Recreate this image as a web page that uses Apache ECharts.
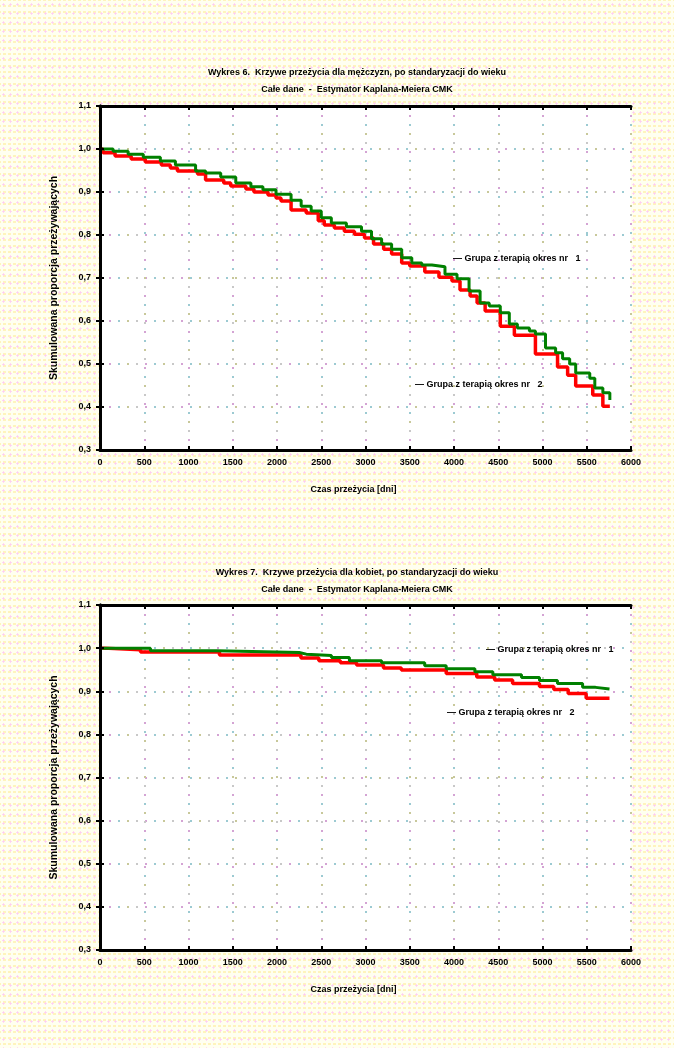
<!DOCTYPE html>
<html>
<head>
<meta charset="utf-8">
<script src="https://cdn.jsdelivr.net/npm/echarts@6/dist/echarts.min.js"></script>
<style>
html,body{margin:0;padding:0;}
body{
  width:674px;height:1048px;overflow:hidden;
  background-color:#fffff0;
  background-image:
    radial-gradient(circle, #ffcdf2 0.9px, transparent 1.3px),
    radial-gradient(circle, #fff4bc 1.1px, transparent 1.5px);
  background-size:7px 9px, 5px 6px;
  background-position:0 0, 2px 3px;
}
#chart{width:674px;height:1048px;}
</style>
</head>
<body>
<div id="chart"></div>
<script>
// ---- text ----
const titles1 = ["Wykres 6.  Krzywe przeżycia dla mężczyzn, po standaryzacji do wieku",
                 "Całe dane  -  Estymator Kaplana-Meiera CMK"];
const titles2 = ["Wykres 7.  Krzywe przeżycia dla kobiet, po standaryzacji do wieku",
                 "Całe dane  -  Estymator Kaplana-Meiera CMK"];
const yAxisName = "Skumulowana proporcja przeżywających";
const xAxisName = "Czas przeżycia [dni]";
const legendLabels = ["— Grupa z terapią okres nr   1", "— Grupa z terapią okres nr   2"];

// ---- axes ----
const xMin = 0, xMax = 6000, xStep = 500;
const yMin = 0.3, yMax = 1.1, yStep = 0.1;

// ---- chart 1 (men): [time in days, cumulative survival] ----
const menGroup1 = [
  [0,1.0],[148,0.995],[318,0.988],[489,0.981],[682,0.972],[852,0.963],[1080,0.949],[1193,0.944],
  [1364,0.935],[1534,0.921],[1705,0.912],[1841,0.905],[1989,0.895],[2159,0.881],[2273,0.867],
  [2386,0.856],[2500,0.840],[2614,0.828],[2784,0.819],[2955,0.809],[3068,0.791],[3182,0.779],
  [3295,0.767],[3409,0.747],[3523,0.735],[3636,0.730],[3750,0.726],[3898,0.709],[4034,0.698],
  [4170,0.670],[4295,0.642],[4398,0.635],[4523,0.619],[4625,0.593],[4716,0.584],[4852,0.577],
  [4920,0.570],[5034,0.537],[5148,0.526],[5227,0.512],[5307,0.500],[5375,0.479],[5534,0.467],
  [5591,0.444],[5682,0.433],[5761,0.416]
];
const menGroup2 = [
  [0,1.0],[34,0.991],[170,0.984],[352,0.977],[511,0.970],[693,0.963],[795,0.956],[875,0.949],
  [1102,0.942],[1193,0.928],[1398,0.921],[1477,0.914],[1648,0.907],[1739,0.900],[1898,0.893],
  [1989,0.886],[2045,0.879],[2159,0.858],[2330,0.851],[2466,0.833],[2534,0.823],[2648,0.816],
  [2761,0.809],[2875,0.802],[2989,0.793],[3091,0.779],[3205,0.767],[3295,0.756],[3409,0.735],
  [3500,0.728],[3670,0.714],[3830,0.702],[3977,0.693],[4068,0.672],[4182,0.658],[4261,0.642],
  [4352,0.623],[4523,0.588],[4682,0.567],[4920,0.523],[5170,0.493],[5284,0.474],[5375,0.449],
  [5568,0.428],[5682,0.402],[5761,0.402]
];
// ---- chart 2 (women) ----
const womenGroup1 = [
  [0,1.0],[570,0.994],[1318,0.990],[2250,0.986],[2331,0.983],[2615,0.978],[2818,0.971],
  [3182,0.966],[3669,0.959],[3912,0.952],[4236,0.945],[4439,0.938],[4763,0.932],[4966,0.925],
  [5169,0.918],[5453,0.909],[5600,0.905],[5757,0.905]
];
const womenGroup2 = [
  [0,1.0],[40,0.996],[458,0.991],[1350,0.984],[2270,0.977],[2473,0.971],[2716,0.966],
  [2899,0.961],[3203,0.954],[3405,0.949],[3912,0.941],[4257,0.933],[4459,0.926],[4662,0.918],
  [4966,0.911],[5128,0.904],[5290,0.895],[5493,0.884],[5757,0.884]
];

const colGreen = '#008000', colRed = '#ff0000';
const gridDotColors = ['#c8c8c8', '#d4a4d4', '#9ccad2', '#c8c89a'];
const FONT = 'Liberation Sans, Arial, sans-serif';
const lbl = {fontFamily:FONT, fontWeight:'bold', fontSize:9, color:'#000'};

const grids = [
  {left:100, top:106, width:531, height:344},
  {left:100, top:605, width:531, height:345}
];

const blackLine = {show:true, lineStyle:{color:'#000', width:3}};
const inTick = {show:true, inside:true, length:4, lineStyle:{color:'#000', width:2}};

// helper axes that only draw the coloured dotted grid lines
function dotAxes(kind, g){
  return gridDotColors.map((c,i)=>({
    type:'value', gridIndex:g,
    min: kind==='x'?xMin:yMin, max: kind==='x'?xMax:yMax, interval: kind==='x'?xStep:yStep,
    axisLine:{show:false}, axisTick:{show:false}, axisLabel:{show:false},
    splitLine:{show:true, lineStyle:{color:c, width:2, type:[2,34], dashOffset:-9*i}},
    silent:true, z:0
  }));
}

function xAxes(g){
  return [
    {type:'value', gridIndex:g, min:xMin, max:xMax, interval:xStep, position:'bottom',
     name:xAxisName, nameLocation:'middle', nameGap:35,
     nameTextStyle:Object.assign({padding:[0,24,0,0]}, lbl),
     axisLine:blackLine, axisTick:inTick,
     axisLabel:Object.assign({margin:8, formatter:v=>String(v)}, lbl),
     splitLine:{show:false}, z:5},
    {type:'value', gridIndex:g, min:xMin, max:xMax, interval:xStep, position:'top',
     axisLine:blackLine, axisTick:inTick,
     axisLabel:{show:false}, splitLine:{show:false}, z:5},
    ...dotAxes('x', g)
  ];
}
function yAxes(g){
  return [
    {type:'value', gridIndex:g, min:yMin, max:yMax, interval:yStep, position:'left',
     name:yAxisName, nameLocation:'middle', nameGap:40, nameRotate:90,
     nameTextStyle:Object.assign({}, lbl, {fontSize:10.5}),
     axisLine:blackLine, axisTick:inTick,
     axisLabel:Object.assign({margin:9, formatter:v=>v.toFixed(1).replace('.',',')}, lbl),
     splitLine:{show:false}, z:5},
    {type:'value', gridIndex:g, min:yMin, max:yMax, interval:yStep, position:'right',
     axisLine:blackLine, axisTick:inTick,
     axisLabel:{show:false}, splitLine:{show:false}, z:5},
    ...dotAxes('y', g)
  ];
}
const X_PER_GRID = 2 + gridDotColors.length;
const Y_PER_GRID = 2 + gridDotColors.length;

function stepSeries(data, color, width, g, z){
  return {type:'line', step:'end', data:data,
    xAxisIndex:g*X_PER_GRID, yAxisIndex:g*Y_PER_GRID,
    showSymbol:false, symbol:'none', z:z, animation:false,
    lineStyle:{color:color, width:width}};
}

function titleBlock(lines, y){
  return lines.map((t,i)=>({
    text:t, left:352, top:y + i*17, textAlign:'center',
    textStyle:Object.assign({}, lbl)
  }));
}
function legendText(txt, x, y){
  return {type:'text', left:x, top:y, z:10,
    style:{text:txt, fill:'#000', font:'bold 9px '+FONT}};
}

const chart = echarts.init(document.getElementById('chart'), null, {renderer:'canvas'});
chart.setOption({
  animation:false,
  backgroundColor:'transparent',
  title:[...titleBlock(titles1, 63), ...titleBlock(titles2, 563)],
  grid:grids.map(g=>Object.assign({show:true, backgroundColor:'#fff', borderWidth:0}, g)),
  xAxis:[...xAxes(0), ...xAxes(1)],
  yAxis:[...yAxes(0), ...yAxes(1)],
  series:[
    stepSeries(menGroup2, colRed, 3.5, 0, 2),
    stepSeries(menGroup1, colGreen, 3, 0, 3),
    stepSeries(womenGroup2, colRed, 3.5, 1, 2),
    stepSeries(womenGroup1, colGreen, 3, 1, 3)
  ],
  graphic:[
    legendText(legendLabels[0], 453, 254),
    legendText(legendLabels[1], 415, 380),
    legendText(legendLabels[0], 486, 645),
    legendText(legendLabels[1], 447, 708)
  ]
});
</script>
</body>
</html>
